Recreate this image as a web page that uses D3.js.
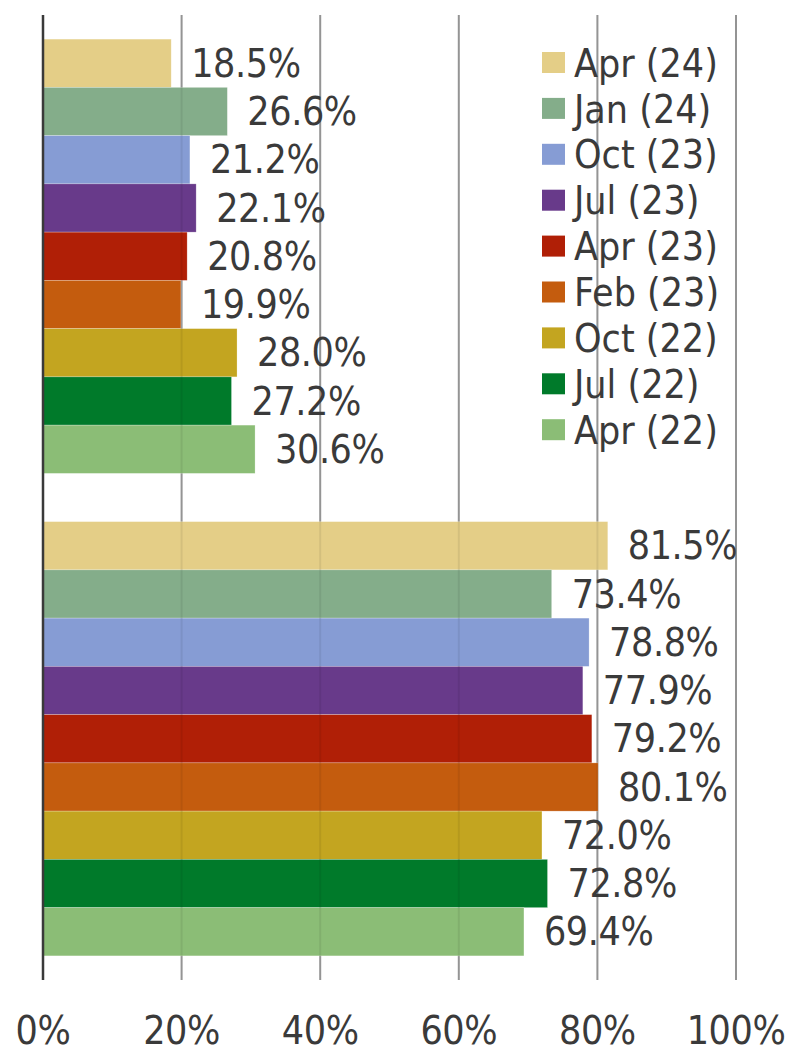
<!DOCTYPE html>
<html>
<head>
<meta charset="utf-8">
<script src="https://cdn.jsdelivr.net/npm/d3@7"></script>
<style>
  body { margin: 0; background: #fff; }
  text { font-family: "DejaVu Sans", Verdana, sans-serif; font-stretch: condensed; fill: #3a3a3a; }
</style>
</head>
<body>
<div id="chart"></div>
<script>
// Categories (labels sit left of the visible area)
const categories = ['Yes:', 'No:'];
// Series, top to bottom within each group
const series = ['Apr (24)', 'Jan (24)', 'Oct (23)', 'Jul (23)', 'Apr (23)', 'Feb (23)', 'Oct (22)', 'Jul (22)', 'Apr (22)'];
const colors = ['#E4CE87', '#84AD8A', '#869CD4', '#683A8A', '#B01F06', '#C45C0E', '#C3A520', '#007A2A', '#8BBD76'];
// values per series, one list per category
const valuesYes = [18.5, 26.6, 21.2, 22.1, 20.8, 19.9, 28.0, 27.2, 30.6];
const valuesNo  = [81.5, 73.4, 78.8, 77.9, 79.2, 80.1, 72.0, 72.8, 69.4];
const ticks = [0, 20, 40, 60, 80, 100];

const width = 788, height = 1049;
const fontSize = 39;
const rows = [];
categories.forEach((c, ci) => {
  series.forEach((s, si) => {
    rows.push({ cat: c, series: s, value: ci === 0 ? valuesYes[si] : valuesNo[si], color: colors[si] });
  });
});

const svg = d3.select('#chart').append('svg')
  .attr('width', width)
  .attr('height', height);

const x = d3.scaleLinear().domain([0, 100]).range([43, 736]);

const y0 = d3.scaleBand()
  .domain(categories)
  .range([15, 980])
  .paddingInner(0.1)
  .paddingOuter(0.05);

const y1 = d3.scaleBand()
  .domain(series)
  .range([0, y0.bandwidth()]);

// Gridlines (under the bars)
const grid = g => g.selectAll('line')
  .data(ticks.slice(1))
  .enter()
  .append('line')
  .attr('x1', d => x(d)).attr('x2', d => x(d))
  .attr('y1', 15).attr('y2', 980);

svg.append('g').call(grid)
  .selectAll('line')
  .attr('stroke', '#a0a0a0')
  .attr('stroke-width', 2);

// Bars
svg.append('g')
  .selectAll('rect')
  .data(rows)
  .enter()
  .append('rect')
  .attr('x', x(0))
  .attr('y', d => y0(d.cat) + y1(d.series))
  .attr('width', d => x(d.value) - x(0))
  .attr('height', y1.bandwidth())
  .attr('fill', d => d.color)
  .attr('stroke', '#fff')
  .attr('stroke-width', 0.6)
  .attr('stroke-opacity', 0.4);

// faint gridlines showing through the bars
svg.append('g').call(grid)
  .selectAll('line')
  .attr('stroke', '#000')
  .attr('stroke-opacity', 0.07)
  .attr('stroke-width', 2);

// Value labels
svg.append('g')
  .selectAll('text')
  .data(rows)
  .enter()
  .append('text')
  .attr('x', d => x(d.value) + 20)
  .attr('y', d => y0(d.cat) + y1(d.series) + y1.bandwidth() / 2)
  .attr('dy', '0.35em')
  .attr('font-size', fontSize)
  .attr('letter-spacing', -0.4)
  .text(d => d.value.toFixed(1) + '%');

// Zero axis line
svg.append('line')
  .attr('x1', x(0)).attr('x2', x(0))
  .attr('y1', 15).attr('y2', 980)
  .attr('stroke', '#3a3a3a')
  .attr('stroke-width', 2.5);

// Category labels (mostly clipped off the left edge)
svg.append('g')
  .selectAll('text')
  .data(categories)
  .enter()
  .append('text')
  .attr('x', 2)
  .attr('y', d => y0(d) + y0.bandwidth() / 2 - 50)
  .attr('dy', '0.35em')
  .attr('text-anchor', 'end')
  .attr('font-size', fontSize)
  .text(d => d);

// X tick labels
svg.append('g')
  .selectAll('text')
  .data(ticks)
  .enter()
  .append('text')
  .attr('x', d => x(d))
  .attr('y', 1030)
  .attr('dy', '0.35em')
  .attr('text-anchor', 'middle')
  .attr('font-size', fontSize)
  .attr('letter-spacing', -0.4)
  .text(d => d + '%');

// Legend
const legend = svg.append('g')
  .selectAll('g')
  .data(series)
  .enter()
  .append('g')
  .attr('transform', (d, i) => `translate(542, ${63 + i * 45.9})`);

legend.append('rect')
  .attr('x', 0).attr('y', -11)
  .attr('width', 23).attr('height', 21)
  .attr('fill', (d, i) => colors[i]);

legend.append('text')
  .attr('x', 32)
  .attr('dy', '0.35em')
  .attr('font-size', fontSize)
  .text(d => d);
</script>
</body>
</html>
